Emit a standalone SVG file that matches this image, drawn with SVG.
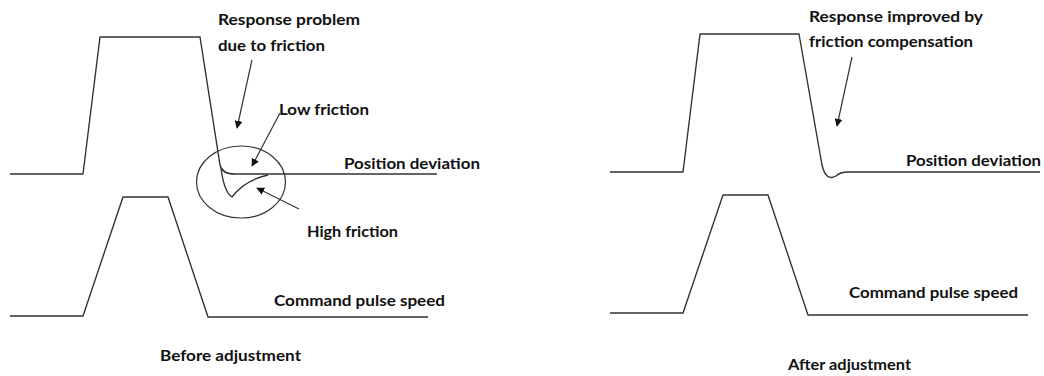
<svg xmlns="http://www.w3.org/2000/svg" width="1044" height="376" viewBox="0 0 1044 376">
<defs>
<style>
.w{fill:none;stroke:#333;stroke-width:1.4;stroke-linejoin:round}
.c{fill:none;stroke:#333;stroke-width:1.2}
.t{font-family:Lato,"Liberation Sans",sans-serif;font-weight:bold;font-size:16px;fill:#111}
</style>
<marker id="ah" viewBox="0 0 10 10" refX="9" refY="5" markerWidth="8" markerHeight="8" markerUnits="userSpaceOnUse" orient="auto">
<path d="M0,0 L10,5 L0,10 Z" fill="#111"/>
</marker>
</defs>
<rect width="1044" height="376" fill="#fff"/>
<g id="before-position">
<path class="w" d="M10,174 L83,174 L100,37 L200,37 L220,165 Q222,174 235,174 L437,174"/>
<path class="w" d="M221,168 Q224,192 232,197 Q245,180 268,175"/>
<ellipse class="c" cx="241" cy="182" rx="44.5" ry="36"/>
<text class="t" x="344" y="169" textLength="136" lengthAdjust="spacingAndGlyphs">Position deviation</text>
</g>
<g id="before-command">
<path class="w" d="M10,316 L83,316 L123,197 L168,197 L208,317 L428,317"/>
<text class="t" x="274" y="306" textLength="171" lengthAdjust="spacingAndGlyphs">Command pulse speed</text>
</g>
<g id="before-labels">
<text class="t" x="218" y="25" textLength="142" lengthAdjust="spacingAndGlyphs">Response problem</text>
<text class="t" x="218" y="51" textLength="107" lengthAdjust="spacingAndGlyphs">due to friction</text>
<text class="t" x="279" y="115" textLength="90" lengthAdjust="spacingAndGlyphs">Low friction</text>
<text class="t" x="307" y="237" textLength="91" lengthAdjust="spacingAndGlyphs">High friction</text>
<text class="t" x="160" y="361" textLength="141" lengthAdjust="spacingAndGlyphs">Before adjustment</text>
</g>
<g id="after-position">
<path class="w" d="M610,172 L683,172 L700,34 L799,34 L822,165 Q826,182 836,176 Q840,172 848,172 L1040,172"/>
<text class="t" x="906" y="166" textLength="135" lengthAdjust="spacingAndGlyphs">Position deviation</text>
</g>
<g id="after-command">
<path class="w" d="M610,313 L683,313 L723,195 L768,195 L808,315 L1028,315"/>
<text class="t" x="849" y="298" textLength="169" lengthAdjust="spacingAndGlyphs">Command pulse speed</text>
</g>
<g id="after-labels">
<text class="t" x="809" y="22" textLength="174" lengthAdjust="spacingAndGlyphs">Response improved by</text>
<text class="t" x="809" y="47" textLength="164" lengthAdjust="spacingAndGlyphs">friction compensation</text>
<text class="t" x="788" y="370" textLength="123" lengthAdjust="spacingAndGlyphs">After adjustment</text>
</g>
<g id="connectors">
<line class="c" x1="252" y1="60" x2="237" y2="128" marker-end="url(#ah)"/>
<line class="c" x1="280" y1="113" x2="252" y2="166" marker-end="url(#ah)"/>
<line class="c" x1="299" y1="209" x2="257" y2="188" marker-end="url(#ah)"/>
<line class="c" x1="852" y1="57" x2="837" y2="126" marker-end="url(#ah)"/>
</g>
</svg>
